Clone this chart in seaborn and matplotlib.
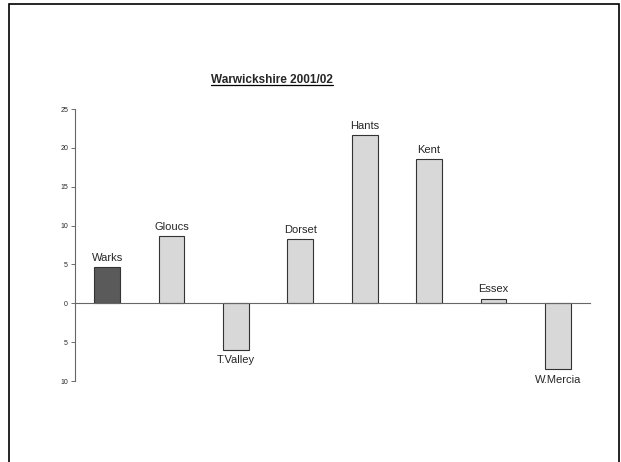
"""
Warwickshire 2001/02 comparison bar chart.
"""
import matplotlib
matplotlib.use('Agg')
import matplotlib.pyplot as plt
from matplotlib.patches import Rectangle
from matplotlib.lines import Line2D
from matplotlib.ticker import FuncFormatter
import seaborn as sns
import pandas as pd

# Data
forces = ['Warks', 'Gloucs', 'T.Valley', 'Dorset', 'Hants', 'Kent', 'Essex', 'W.Mercia']
values = [4.7, 8.7, -6.0, 8.3, 21.6, 18.6, 0.6, -8.5]
bar_colors = ['#5a5a5a', '#d8d8d8', '#d8d8d8', '#d8d8d8', '#d8d8d8', '#d8d8d8', '#d8d8d8', '#d8d8d8']
y_ticks = [-10, -5, 0, 5, 10, 15, 20, 25]

sns.set_style("white")
plt.rcParams['font.family'] = ['Liberation Sans', 'DejaVu Sans']

df = pd.DataFrame({'force': forces, 'value': values})

fig = plt.figure(figsize=(6.21, 4.62), dpi=100)
ax = fig.add_axes([75 / 621, 1 - 381 / 462, 515 / 621, 272 / 462])

sns.barplot(data=df, x='force', y='value', hue='force', palette=bar_colors,
            legend=False, width=0.4, edgecolor='#333333', linewidth=0.8,
            saturation=1, ax=ax)

ax.set_xlim(-0.5, len(forces) - 0.5)
ax.set_ylim(-10, 25)
ax.set_yticks(y_ticks)
ax.yaxis.set_major_formatter(FuncFormatter(lambda v, p: f'{abs(v):g}'))
ax.tick_params(axis='y', left=True, length=3, width=0.6, color='#555555',
               labelsize=5, pad=2)
ax.set_xticks([])
ax.set_xlabel('')
ax.set_ylabel('')

for side in ['top', 'right']:
    ax.spines[side].set_visible(False)
ax.spines['bottom'].set_position(('data', 0))
for side in ['left', 'bottom']:
    ax.spines[side].set_color('#666666')
    ax.spines[side].set_linewidth(0.8)

# Labels above / below bars
for i, (name, val) in enumerate(zip(forces, values)):
    if val >= 0:
        ax.annotate(name, (i, val), xytext=(0, 3), textcoords='offset points',
                    ha='center', va='bottom', fontsize=8)
    else:
        ax.annotate(name, (i, val), xytext=(0, -4), textcoords='offset points',
                    ha='center', va='top', fontsize=8)

# Title with underline
title = fig.text(272 / 621, 1 - 83 / 462, 'Warwickshire 2001/02', ha='center',
                 va='baseline', fontsize=8.5, fontweight='bold')
fig.canvas.draw()
bb = title.get_window_extent().transformed(fig.transFigure.inverted())
uy = 1 - 85 / 462
fig.add_artist(Line2D([bb.x0, bb.x1], [uy, uy], transform=fig.transFigure,
                      color='black', linewidth=0.9))

# Frame around the figure (bottom edge cut off)
fig.add_artist(Rectangle((8.5 / 621, -0.05), 610 / 621, 1.05 - 3.5 / 462,
                         transform=fig.transFigure, fill=False,
                         edgecolor='black', linewidth=1.2))

plt.savefig('out.png', dpi=100)
plt.close()
